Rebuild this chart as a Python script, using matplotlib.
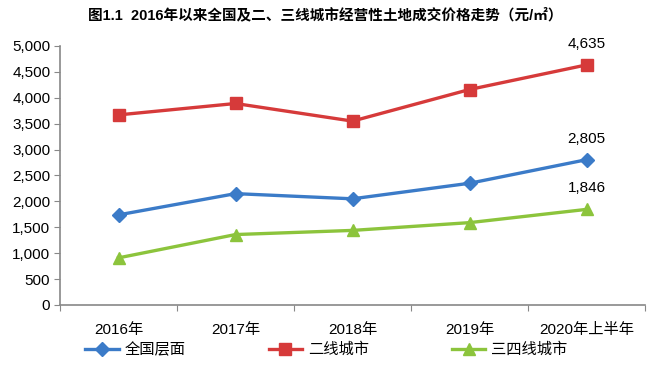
import numpy as np
import matplotlib.pyplot as plt
from matplotlib.ticker import FuncFormatter, FixedLocator

plt.rcParams['font.family'] = ['Liberation Sans', 'Noto Sans CJK SC', 'DejaVu Sans']

categories = ['2016年', '2017年', '2018年', '2019年', '2020年上半年']
national = [1740, 2150, 2050, 2350, 2805]
tier2 = [3670, 3890, 3550, 4160, 4635]
tier34 = [910, 1360, 1440, 1590, 1846]
series_names = ['全国层面', '二线城市', '三四线城市']

title = '图1.1  2016年以来全国及二、三线城市经营性土地成交价格走势（元/㎡）'

fig = plt.figure(figsize=(6.53, 3.79), dpi=100)
ax = fig.add_axes([60/653, 74/379, 585/653, 259/379])

x = np.arange(len(categories))
ax.plot(x, national, color='#3b7bc8', lw=2.4, marker='D', ms=7.5, label=series_names[0])
ax.plot(x, tier2, color='#d63a3a', lw=2.4, marker='s', ms=9, label=series_names[1])
ax.plot(x, tier34, color='#8cc43c', lw=2.4, marker='^', ms=9, label=series_names[2])

# labels on the last point of each series
for vals in (tier2, national, tier34):
    ax.annotate(f'{vals[-1]:,}', (x[-1], vals[-1]), xytext=(0, 10), textcoords='offset points',
                ha='center', va='bottom', fontsize=11)

ax.set_xlim(-0.5, len(categories) - 0.5)
ax.set_ylim(0, 5000)
ax.set_yticks(np.arange(0, 5001, 500))
ax.yaxis.set_major_formatter(FuncFormatter(lambda v, p: f'{int(v):,}'))

ax.xaxis.set_major_locator(FixedLocator(np.arange(-0.5, len(categories), 1)))
ax.xaxis.set_minor_locator(FixedLocator(x))
ax.set_xticklabels([])
ax.set_xticklabels(categories, minor=True)
ax.tick_params(axis='x', which='minor', length=0, pad=13, labelsize=11)
ax.tick_params(axis='x', which='major', length=4, color='#888888', direction='out')
ax.tick_params(axis='y', length=4, color='#888888', labelsize=11, pad=3)

for s in ('top', 'right'):
    ax.spines[s].set_visible(False)
for s in ('left', 'bottom'):
    ax.spines[s].set_color('#888888')
    ax.spines[s].set_linewidth(1.2)

fig.text(0.498, 0.96, title, ha='center', va='center', fontsize=10.5, fontweight='bold')

fig.legend(loc='center', bbox_to_anchor=(0.5, 0.077), ncol=3, frameon=False, fontsize=11,
           handlelength=2.2, columnspacing=5.4, handletextpad=0.4, borderaxespad=0)

fig.savefig('out.png', dpi=100)
